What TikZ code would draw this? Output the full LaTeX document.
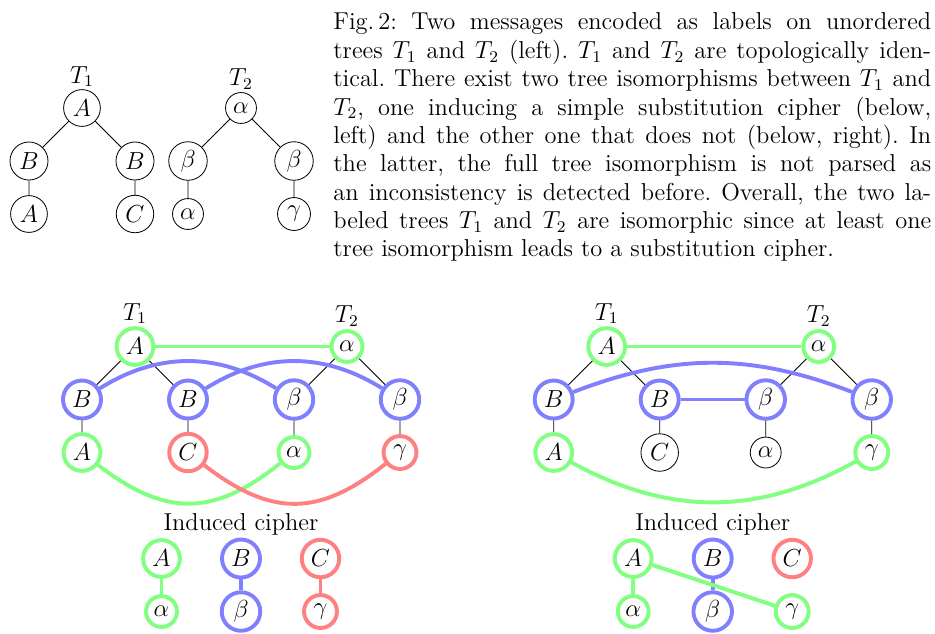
\documentclass[tikz,border=0pt]{standalone}
\usetikzlibrary{positioning}
\begin{document}
\begin{tikzpicture}[x=25.8pt, y=25.8pt, font=\fontsize{11.9}{13.6}\selectfont,
    every label/.append style={inner sep=1pt},
    vx/.style={circle, draw, inner sep=2.1pt},
    gvx/.style={vx, draw=green!50, line width=1.9pt},
    bvx/.style={vx, draw=blue!50, line width=1.9pt},
    rvx/.style={vx, draw=red!50, line width=1.9pt},
    glink/.style={green!50, line width=1.9pt},
    blink/.style={blue!50, line width=1.9pt},
    rlink/.style={red!50, line width=1.9pt}]
    \useasboundingbox (-0.547,2.038) rectangle (17.094,-9.906);

    % the two trees
    \node[vx, label=above:$T_1$] (a1) at (1,0) {$A$};
    \node[vx] (b1) at (0,-1) {$B$};
    \node[vx] (b2) at (2,-1) {$B$};
    \node[vx] (a2) at (0,-2) {$A$};
    \node[vx] (c1) at (2,-2) {$C$};
    \node[vx, label=above:$T_2$] (al1) at (4,0) {$\alpha$};
    \node[vx] (be1) at (3,-1) {$\beta$};
    \node[vx] (be2) at (5,-1) {$\beta$};
    \node[vx] (al2) at (3,-2) {$\alpha$};
    \node[vx] (ga1) at (5,-2) {$\gamma$};
    \draw (a1) -- (b1) (a1) -- (b2) (b1) -- (a2) (b2) -- (c1);
    \draw (al1) -- (be1) (al1) -- (be2) (be1) -- (al2) (be2) -- (ga1);

    \node[anchor=north west, inner sep=0pt, text width=291pt, align=justify, font=\fontsize{11.9}{13.8}\selectfont\frenchspacing] (cap) at (5.736,1.80) {Fig.\,2: Two messages encoded as labels on unordered\linebreak
    trees $T_1$ and $T_2$ (left). $T_1$ and $T_2$ are topologically iden-\linebreak
    tical. There exist two tree isomorphisms between $T_1$ and\linebreak
    $T_2$, one inducing a simple substitution cipher (below,\linebreak
    left) and the other one that does not (below, right). In\linebreak
    the latter, the full tree isomorphism is not parsed as\linebreak
    an inconsistency is detected before. Overall, the two la-\linebreak
    beled trees $T_1$ and $T_2$ are isomorphic since at least one\linebreak
    tree isomorphism leads to a substitution cipher.};

    % first isomorphism (left)
    \node[gvx, label=above:$T_1$] (la1) at (2,-4.5) {$A$};
    \node[gvx, label=above:$T_2$] (lal1) at (6,-4.5) {$\alpha$};
    \node[bvx] (lb1) at (1,-5.5) {$B$};
    \node[bvx] (lb2) at (3,-5.5) {$B$};
    \node[bvx] (lbe1) at (5,-5.5) {$\beta$};
    \node[bvx] (lbe2) at (7,-5.5) {$\beta$};
    \node[gvx] (la2) at (1,-6.5) {$A$};
    \node[rvx] (lc1) at (3,-6.5) {$C$};
    \node[gvx] (lal2) at (5,-6.5) {$\alpha$};
    \node[rvx] (lga1) at (7,-6.5) {$\gamma$};
    \draw (la1) -- (lb1) (la1) -- (lb2) (lb1) -- (la2) (lb2) -- (lc1);
    \draw (lal1) -- (lbe1) (lal1) -- (lbe2) (lbe1) -- (lal2) (lbe2) -- (lga1);
    \draw[glink] (la1) -- (lal1);
    \draw[blink] (lb1) to[bend left=32] (lbe1);
    \draw[blink] (lb2) to[bend left=32] (lbe2);
    \draw[glink] (la2) to[bend right=38, looseness=1.2] (lal2);
    \draw[rlink] (lc1) to[bend right=38, looseness=1.2] (lga1);

    \node (lind) at (4,-7.85) {Induced cipher};
    \node[gvx] (lka) at (2.5,-8.5) {$A$};
    \node[bvx] (lkb) at (4,-8.5) {$B$};
    \node[rvx] (lkc) at (5.5,-8.5) {$C$};
    \node[gvx] (lkal) at (2.5,-9.5) {$\alpha$};
    \node[bvx] (lkbe) at (4,-9.5) {$\beta$};
    \node[rvx] (lkga) at (5.5,-9.5) {$\gamma$};
    \draw[glink] (lka) -- (lkal);
    \draw[blink] (lkb) -- (lkbe);
    \draw[rlink] (lkc) -- (lkga);

    % second isomorphism (right)
    \begin{scope}[shift={(8.9,0)}]
    \node[gvx, label=above:$T_1$] (ra1) at (2,-4.5) {$A$};
    \node[gvx, label=above:$T_2$] (ral1) at (6,-4.5) {$\alpha$};
    \node[bvx] (rb1) at (1,-5.5) {$B$};
    \node[bvx] (rb2) at (3,-5.5) {$B$};
    \node[bvx] (rbe1) at (5,-5.5) {$\beta$};
    \node[bvx] (rbe2) at (7,-5.5) {$\beta$};
    \node[gvx] (ra2) at (1,-6.5) {$A$};
    \node[vx] (rc1) at (3,-6.5) {$C$};
    \node[vx] (ral2) at (5,-6.5) {$\alpha$};
    \node[gvx] (rga1) at (7,-6.5) {$\gamma$};
    \draw (ra1) -- (rb1) (ra1) -- (rb2) (rb1) -- (ra2) (rb2) -- (rc1);
    \draw (ral1) -- (rbe1) (ral1) -- (rbe2) (rbe1) -- (ral2) (rbe2) -- (rga1);
    \draw[glink] (ra1) -- (ral1);
    \draw[blink] (rb1) to[bend left=21] (rbe2);
    \draw[blink] (rb2) -- (rbe1);
    \draw[glink] (ra2) to[bend right=29] (rga1);

    \node (rind) at (4,-7.85) {Induced cipher};
    \node[gvx] (rka) at (2.5,-8.5) {$A$};
    \node[bvx] (rkb) at (4,-8.5) {$B$};
    \node[rvx] (rkc) at (5.5,-8.5) {$C$};
    \node[gvx] (rkal) at (2.5,-9.5) {$\alpha$};
    \node[bvx] (rkbe) at (4,-9.5) {$\beta$};
    \node[gvx] (rkga) at (5.5,-9.5) {$\gamma$};
    \draw[blink] (rkb) -- (rkbe);
    \draw[glink] (rka) -- (rkal);
    \draw[glink] (rka) -- (rkga);
    \end{scope}
\end{tikzpicture}
\end{document}
